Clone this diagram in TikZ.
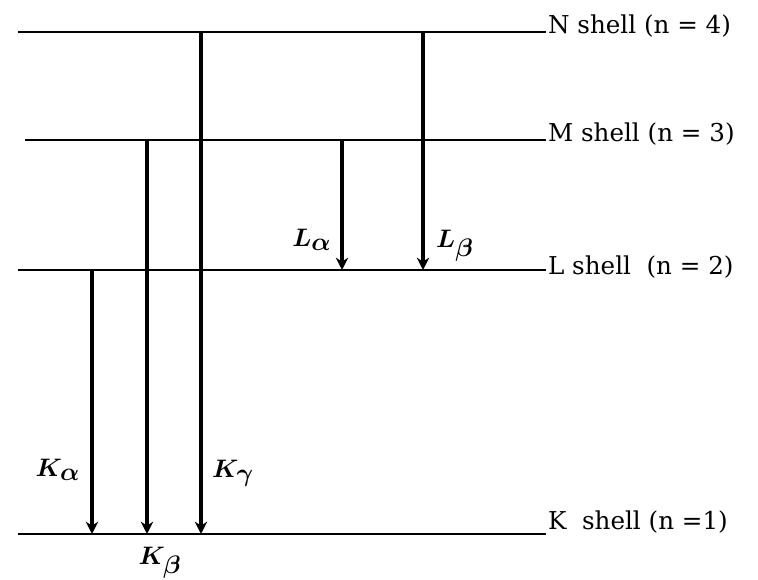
\documentclass[tikz,border=0pt]{standalone}
\usepackage{amsmath}
\usepackage{bm}
\usepackage{fontspec}
\newfontfamily\shellfont{DejaVu Serif}
\usetikzlibrary{
	arrows.meta
}
\newcommand{\xline}[2]{$\bm{#1}_{\textstyle\bm{#2}}$}

\begin{document}
\begin{tikzpicture}[x=0.02cm, y=-0.02cm,
		level/.style={line width=0.7pt},
		jump/.style={line width=2pt, -{Stealth[length=7pt, width=7pt]}},
		shell/.style={anchor=base west, inner sep=1pt, font=\shellfont\fontsize{14}{16}\selectfont},
		linelabel/.style={inner sep=0pt, font=\fontsize{15}{18}\selectfont}]
		\useasboundingbox (0,0) rectangle (758,580);
		\coordinate (Nl) at (18,32);
		\coordinate (Ml) at (25,140);
		\coordinate (Ll) at (18,270);
		\coordinate (Kl) at (18,534);
		\node[shell] (N) at (546,34) {N shell (n = 4)};
		\node[shell] (M) at (546,142) {M shell (n = 3)};
		\node[shell] (L) at (546,275) {L shell\ \ (n = 2)};
		\node[shell] (K) at (546,530) {K\ \ shell (n =1)};
		\foreach \s in {N,M,L,K}
			\draw[level] (\s l) -- (\s l -| \s.west);
		\coordinate (ka) at (92,0);
		\coordinate (kb) at (147,0);
		\coordinate (kg) at (201,0);
		\coordinate (la) at (342,0);
		\coordinate (lb) at (423,0);
		\draw[jump] (ka |- Ll) -- (ka |- Kl);
		\draw[jump] (kb |- Ml) -- (kb |- Kl);
		\draw[jump] (kg |- Nl) -- (kg |- Kl);
		\draw[jump] (la |- Ml) -- (la |- Ll);
		\draw[jump] (lb |- Nl) -- (lb |- Ll);
		\node[linelabel] (Ka) at (58,470) {\xline{K}{\alpha}};
		\node[linelabel] (Kb) at (160,563) {\xline{K}{\beta}};
		\node[linelabel] (Kg) at (233,473) {\xline{K}{\gamma}};
		\node[linelabel] (La) at (312,240) {\xline{L}{\alpha}};
		\node[linelabel] (Lb) at (455,246) {\xline{L}{\beta}};
\end{tikzpicture}
\end{document}
